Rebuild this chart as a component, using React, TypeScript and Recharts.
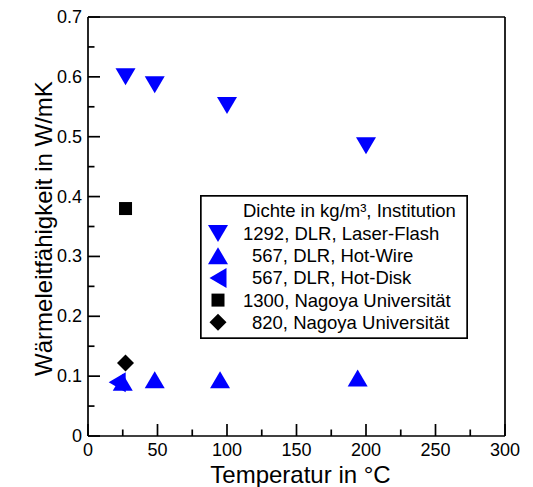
import React from 'react';
import { ScatterChart, Scatter, XAxis, YAxis } from 'recharts';

const FONT = '"Liberation Sans", Arial, Helvetica, sans-serif';

const laserFlashT = [27, 48, 100, 200];
const laserFlashK = [0.6, 0.587, 0.552, 0.485];
const hotWireT = [25, 48, 95, 194];
const hotWireK = [0.09, 0.094, 0.094, 0.097];
const hotDiskT = [21];
const hotDiskK = [0.09];
const nagoya1300T = [27];
const nagoya1300K = [0.38];
const nagoya820T = [27];
const nagoya820K = [0.122];

const xTicks = [0, 25, 50, 75, 100, 125, 150, 175, 200, 225, 250, 275, 300];
const yTicks = [0, 0.05, 0.1, 0.15, 0.2, 0.25, 0.3, 0.35, 0.4, 0.45, 0.5, 0.55, 0.6, 0.65, 0.7];
const xTickLabels = ['0', '50', '100', '150', '200', '250', '300'];
const yTickLabels = ['0', '0.1', '0.2', '0.3', '0.4', '0.5', '0.6', '0.7'];

const legendTitle = 'Dichte in kg/m³, Institution';
const seriesNames = [
  '1292, DLR, Laser-Flash',
  '567, DLR, Hot-Wire',
  '567, DLR, Hot-Disk',
  '1300, Nagoya Universität',
  '820, Nagoya Universität',
];

const toPoints = (t: number[], k: number[]) => t.map((x, i) => ({ x, y: k[i] }));

const BLUE = '#0000ff';
const MAJ = 12;
const MIN = 6.5;
const TS = 0.001;
const SW = 1.7;

const DownTri = ({ cx, cy }: any) => (
  <polygon points={`${cx - 10},${cy - 8.5} ${cx + 10},${cy - 8.5} ${cx},${cy + 8.5}`} fill={BLUE} />
);
const UpTri = ({ cx, cy }: any) => (
  <polygon points={`${cx - 10},${cy + 8.5} ${cx + 10},${cy + 8.5} ${cx},${cy - 8.5}`} fill={BLUE} />
);
const LeftTri = ({ cx, cy }: any) => (
  <polygon points={`${cx - 8.5},${cy} ${cx + 8.5},${cy - 10} ${cx + 8.5},${cy + 10}`} fill={BLUE} />
);
const Square = ({ cx, cy }: any) => <rect x={cx - 6.5} y={cy - 6.5} width={13} height={13} fill="#000" />;
const Diamond = ({ cx, cy }: any) => (
  <polygon points={`${cx},${cy - 8.5} ${cx + 8.5},${cy} ${cx},${cy + 8.5} ${cx - 8.5},${cy}`} fill="#000" />
);

const BottomTick = (props: any) => {
  const { x, y, index } = props;
  const major = index % 2 === 0;
  return (
    <g>
      <line x1={x} x2={x} y1={y} y2={y - (major ? MAJ : MIN)} stroke="#000" strokeWidth={SW} />
      {major && (
        <text x={x} y={y + 20} textAnchor="middle" fontSize={18} fontFamily={FONT} fill="#000">
          {xTickLabels[index / 2]}
        </text>
      )}
    </g>
  );
};
const TopTick = (props: any) => {
  const { x, y, index } = props;
  const major = index % 2 === 0;
  return <line x1={x} x2={x} y1={y} y2={y + (major ? MAJ : MIN)} stroke="#000" strokeWidth={SW} />;
};
const LeftTick = (props: any) => {
  const { x, y, index } = props;
  const major = index % 2 === 0;
  return (
    <g>
      <line x1={x} x2={x + (major ? MAJ : MIN)} y1={y} y2={y} stroke="#000" strokeWidth={SW} />
      {major && (
        <text x={x - 6} y={y + 6} textAnchor="end" fontSize={18} fontFamily={FONT} fill="#000">
          {yTickLabels[index / 2]}
        </text>
      )}
    </g>
  );
};
const RightTick = (props: any) => {
  const { x, y, index } = props;
  const major = index % 2 === 0;
  return <line x1={x} x2={x - (major ? MAJ : MIN)} y1={y} y2={y} stroke="#000" strokeWidth={SW} />;
};

const legendMarkers = [DownTri, UpTri, LeftTri, Square, Diamond];
const legendTextX = [43, 52, 52, 43, 52];

export default function App() {
  return (
    <div style={{ position: 'absolute', left: 0, top: 0, width: 533, height: 487, background: '#fff' }}>
      <ScatterChart width={533} height={487} margin={{ top: 0, right: 0, bottom: 0, left: 0 }}>
        <XAxis
          xAxisId="b"
          type="number"
          dataKey="x"
          domain={[0, 300]}
          ticks={xTicks}
          interval={0}
          orientation="bottom"
          height={51}
          tickSize={TS}
          tickMargin={TS}
          tickLine={false}
          tick={<BottomTick />}
          axisLine={{ stroke: '#000', strokeWidth: SW }}
          label={{
            content: (p: any) => (
              <text
                x={p.viewBox.x + p.viewBox.width / 2 + 4}
                y={p.viewBox.y + 47}
                textAnchor="middle"
                fontSize={24}
                fontFamily={FONT}
                fill="#000"
              >
                Temperatur in °C
              </text>
            ),
          }}
        />
        <XAxis
          xAxisId="t"
          type="number"
          dataKey="x"
          domain={[0, 300]}
          ticks={xTicks}
          interval={0}
          orientation="top"
          height={17}
          tickSize={TS}
          tickMargin={TS}
          tickLine={false}
          tick={<TopTick />}
          axisLine={{ stroke: '#000', strokeWidth: SW }}
        />
        <YAxis
          yAxisId="l"
          type="number"
          dataKey="y"
          domain={[0, 0.7]}
          ticks={yTicks}
          interval={0}
          orientation="left"
          width={88}
          tickSize={TS}
          tickMargin={TS}
          tickLine={false}
          tick={<LeftTick />}
          axisLine={{ stroke: '#000', strokeWidth: SW }}
          label={{
            content: (p: any) => {
              const cx = 52;
              const cy = p.viewBox.y + p.viewBox.height / 2 + 2;
              return (
                <text
                  x={cx}
                  y={cy}
                  transform={`rotate(-90 ${cx} ${cy})`}
                  textAnchor="middle"
                  fontSize={24}
                  fontFamily={FONT}
                  fill="#000"
                >
                  Wärmeleitfähigkeit in W/mK
                </text>
              );
            },
          }}
        />
        <YAxis
          yAxisId="r"
          type="number"
          dataKey="y"
          domain={[0, 0.7]}
          ticks={yTicks}
          interval={0}
          orientation="right"
          width={28}
          tickSize={TS}
          tickMargin={TS}
          tickLine={false}
          tick={<RightTick />}
          axisLine={{ stroke: '#000', strokeWidth: SW }}
        />
        <Scatter xAxisId="b" yAxisId="l" data={toPoints(hotDiskT, hotDiskK)} shape={<LeftTri />} isAnimationActive={false} />
        <Scatter xAxisId="b" yAxisId="l" data={toPoints(hotWireT, hotWireK)} shape={<UpTri />} isAnimationActive={false} />
        <Scatter xAxisId="b" yAxisId="l" data={toPoints(laserFlashT, laserFlashK)} shape={<DownTri />} isAnimationActive={false} />
        <Scatter xAxisId="b" yAxisId="l" data={toPoints(nagoya1300T, nagoya1300K)} shape={<Square />} isAnimationActive={false} />
        <Scatter xAxisId="b" yAxisId="l" data={toPoints(nagoya820T, nagoya820K)} shape={<Diamond />} isAnimationActive={false} />
      </ScatterChart>
      <svg
        width={268}
        height={144}
        style={{ position: 'absolute', left: 200, top: 195 }}
      >
        <rect x={0.85} y={0.85} width={266.3} height={142.3} fill="#fff" stroke="#000" strokeWidth={SW} />
        <text x={43} y={21.5} fontSize={18.5} fontFamily={FONT} fill="#000">
          {legendTitle}
        </text>
        {seriesNames.map((name, i) => {
          const M = legendMarkers[i];
          const cy = 38.5 + i * 22.2;
          return (
            <g key={name}>
              <M cx={18} cy={cy} />
              <text x={legendTextX[i]} y={cy + 6.5} fontSize={18.5} fontFamily={FONT} fill="#000">
                {name}
              </text>
            </g>
          );
        })}
      </svg>
    </div>
  );
}
